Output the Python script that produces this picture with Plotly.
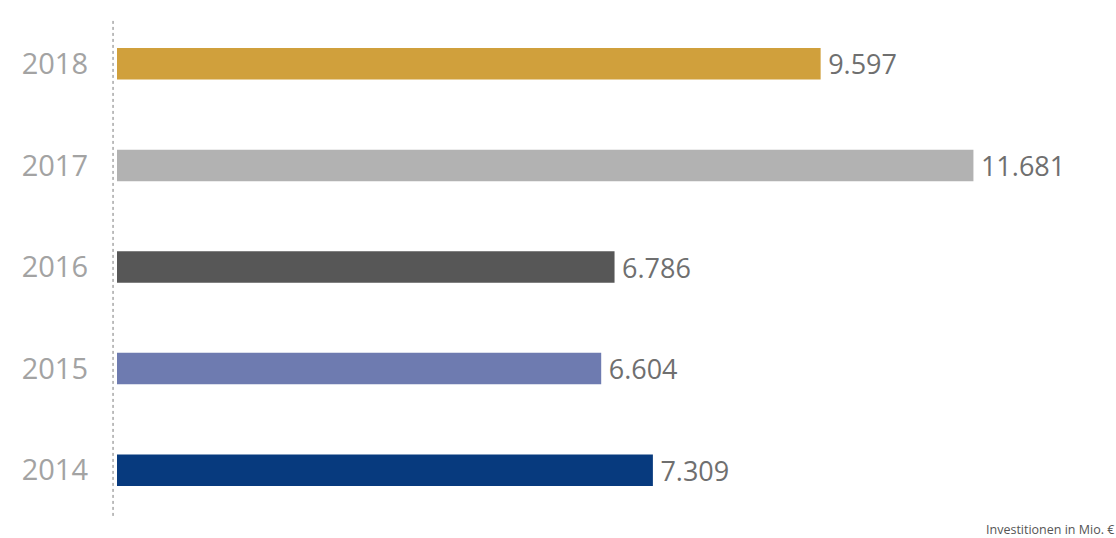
import plotly.graph_objects as go

years = ["2014", "2015", "2016", "2017", "2018"]
values = [7309, 6604, 6786, 11681, 9597]
colors = ["#073A7E", "#6E7BB0", "#575757", "#B2B2B2", "#D0A03C"]
footnote = "Investitionen in Mio. €"

fig = go.Figure(go.Bar(
    y=years, x=values, orientation="h",
    marker=dict(color=colors, line=dict(width=0)),
    width=0.31,
    texttemplate="\u2009%{x:,.0f}", textposition="outside",
    constraintext="none",
    textfont=dict(family="Open Sans", size=27, color="#6f6f6f"),
    cliponaxis=False, hoverinfo="skip",
))

fig.update_layout(
    width=1116, height=538,
    margin=dict(l=117, r=7, t=13, b=17),
    paper_bgcolor="white", plot_bgcolor="white",
    separators=",.",
    showlegend=False,
    xaxis=dict(range=[0, 13530], visible=False, fixedrange=True),
    yaxis=dict(type="category", categoryorder="array", categoryarray=years,
               range=[-0.5, 4.5], showgrid=False, zeroline=False, showline=False,
               ticks="", ticklabelstandoff=28,
               tickfont=dict(family="Open Sans", size=29, color="#a3a3a3")),
    shapes=[dict(type="line", xref="paper", yref="paper", x0=-0.004, x1=-0.004,
                 y0=0.01, y1=0.99, line=dict(color="#7a7a7a", width=1, dash="dot"))],
    annotations=[dict(text=footnote, xref="paper", yref="paper", x=1.006, y=-0.036,
                      xanchor="right", yanchor="bottom", showarrow=False, borderpad=0,
                      font=dict(family="Open Sans", size=12.5, color="#555555"))],
)

fig.write_html("out.html")
